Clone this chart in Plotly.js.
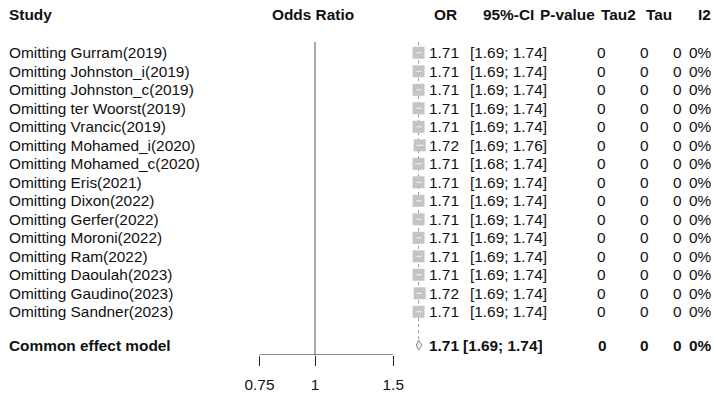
<!DOCTYPE html>
<html>
<head>
<meta charset="utf-8">
<script src="https://cdn.plot.ly/plotly-3.0.1.min.js"></script>
<style>html,body{margin:0;padding:0;background:#fff;}#chart{width:714px;height:396px;}</style>
</head>
<body>
<div id="chart"></div>
<script>
// ---- data ----
const studies = ["Omitting Gurram(2019)", "Omitting Johnston_i(2019)", "Omitting Johnston_c(2019)",
  "Omitting ter Woorst(2019)", "Omitting Vrancic(2019)", "Omitting Mohamed_i(2020)",
  "Omitting Mohamed_c(2020)", "Omitting Eris(2021)", "Omitting Dixon(2022)", "Omitting Gerfer(2022)",
  "Omitting Moroni(2022)", "Omitting Ram(2022)", "Omitting Daoulah(2023)", "Omitting Gaudino(2023)",
  "Omitting Sandner(2023)"];
const orValues = [1.71, 1.71, 1.71, 1.71, 1.71, 1.72, 1.71, 1.71, 1.71, 1.71, 1.71, 1.71, 1.71, 1.72, 1.71];
const ciLower  = [1.69, 1.69, 1.69, 1.69, 1.69, 1.69, 1.68, 1.69, 1.69, 1.69, 1.69, 1.69, 1.69, 1.69, 1.69];
const ciUpper  = [1.74, 1.74, 1.74, 1.74, 1.74, 1.76, 1.74, 1.74, 1.74, 1.74, 1.74, 1.74, 1.74, 1.74, 1.74];
const pValues  = [0, 0, 0, 0, 0, 0, 0, 0, 0, 0, 0, 0, 0, 0, 0];
const tau2Values = [0, 0, 0, 0, 0, 0, 0, 0, 0, 0, 0, 0, 0, 0, 0];
const tauValues  = [0, 0, 0, 0, 0, 0, 0, 0, 0, 0, 0, 0, 0, 0, 0];
const i2Values   = ["0%", "0%", "0%", "0%", "0%", "0%", "0%", "0%", "0%", "0%", "0%", "0%", "0%", "0%", "0%"];
const pooledLabel = "Common effect model";
const pooledOR = 1.71, pooledLower = 1.69, pooledUpper = 1.74;
const pooledP = 0, pooledTau2 = 0, pooledTau = 0, pooledI2 = "0%";
const nullEffect = 1;
const tickVals = [0.75, 1, 1.5];
const tickLabels = ["0.75", "1", "1.5"];
const headers = ["Study", "Odds Ratio", "OR", "95%-CI", "P-value", "Tau2", "Tau", "I2"];

// ---- layout helpers ----
const W = 714, H = 396;
const FONT = "Liberation Sans, Arial, sans-serif";
const FS = 15.4;
const TXT = "#111111";
const rowOf = i => i + 2;          // study rows
const headerRow = -0.05;
const pooledRow = 17.8;
const yBottom = 18.335;
const yTop = -0.854;
const lineTop = 1.42;
const px = v => v / W;

const traces = [];
// pooled dotted vertical line
traces.push({x: [pooledOR, pooledOR], y: [lineTop, pooledRow - 0.27], mode: "lines",
  line: {color: "#9a9a9a", width: 1, dash: "dot"}, hoverinfo: "skip", cliponaxis: false});
// null effect line
traces.push({x: [nullEffect, nullEffect], y: [lineTop, yBottom], mode: "lines",
  line: {color: "#555555", width: 1}, hoverinfo: "skip", cliponaxis: false});
// axis baseline
traces.push({x: [tickVals[0], tickVals[tickVals.length - 1]], y: [yBottom, yBottom], mode: "lines",
  line: {color: "#222222", width: 1}, hoverinfo: "skip", cliponaxis: false});
// squares
const rows = studies.map((s, i) => rowOf(i));
traces.push({x: orValues, y: rows, mode: "markers",
  marker: {symbol: "square", size: 12, color: "#c4c4c4", line: {width: 0}}, hoverinfo: "skip", cliponaxis: false});
// CI lines
studies.forEach((s, i) => {
  traces.push({x: [ciLower[i], ciUpper[i]], y: [rowOf(i), rowOf(i)], mode: "lines",
    line: {color: "#f2f2f2", width: 1}, hoverinfo: "skip", cliponaxis: false});
});
// diamond
const dh = 0.27;
traces.push({x: [pooledLower, pooledOR, pooledUpper, pooledOR, pooledLower],
  y: [pooledRow, pooledRow - dh, pooledRow, pooledRow + dh, pooledRow],
  mode: "lines", fill: "toself", fillcolor: "#eeeeee", line: {color: "#8a8a8a", width: 1},
  hoverinfo: "skip", cliponaxis: false});

// ---- text ----
const ann = [];
function T(text, xpx, row, anchor, bold) {
  ann.push({text: bold ? "<b>" + text + "</b>" : text, xref: "paper", yref: "y", x: px(xpx), y: row,
    xanchor: anchor, yanchor: "middle", showarrow: false, borderpad: 0,
    font: {family: FONT, size: FS, color: TXT}});
}
const hdrPos = [[8, "left"], [313, "center"], [458, "right"], [535, "right"], [596, "right"], [637, "right"], [673, "right"], [712, "right"]];
headers.forEach((h, k) => T(h, hdrPos[k][0], headerRow, hdrPos[k][1], true));
const fmt = v => v.toFixed(2);
studies.forEach((s, i) => {
  const r = rowOf(i);
  T(s, 8, r, "left", false);
  T(fmt(orValues[i]), 460, r, "right", false);
  T("[" + fmt(ciLower[i]) + "; " + fmt(ciUpper[i]) + "]", 548, r, "right", false);
  T(String(pValues[i]), 607, r, "right", false);
  T(String(tau2Values[i]), 650, r, "right", false);
  T(String(tauValues[i]), 683, r, "right", false);
  T(i2Values[i], 713, r, "right", false);
});
T(pooledLabel, 8, pooledRow, "left", true);
T(fmt(pooledOR), 460, pooledRow, "right", true);
T("[" + fmt(pooledLower) + "; " + fmt(pooledUpper) + "]", 544, pooledRow, "right", true);
T(String(pooledP), 608, pooledRow, "right", true);
T(String(pooledTau2), 650, pooledRow, "right", true);
T(String(pooledTau), 683, pooledRow, "right", true);
T(pooledI2, 713, pooledRow, "right", true);

const layout = {
  width: W, height: H, margin: {l: 0, r: 0, t: 0, b: 0},
  paper_bgcolor: "#ffffff", plot_bgcolor: "#ffffff", showlegend: false,
  xaxis: {type: "log", range: [-0.7088, 0.8978], tickvals: tickVals, ticktext: tickLabels,
    ticks: "outside", ticklen: 10, tickwidth: 1, tickcolor: "#222222",
    showgrid: false, zeroline: false, showline: false, fixedrange: true, ticklabelstandoff: 6,
    tickfont: {family: FONT, size: FS, color: TXT}},
  yaxis: {domain: [41 / H, 1], range: [yBottom, yTop], visible: false, fixedrange: true},
  annotations: ann
};
Plotly.newPlot("chart", traces, layout, {staticPlot: true, displayModeBar: false});
</script>
</body>
</html>
